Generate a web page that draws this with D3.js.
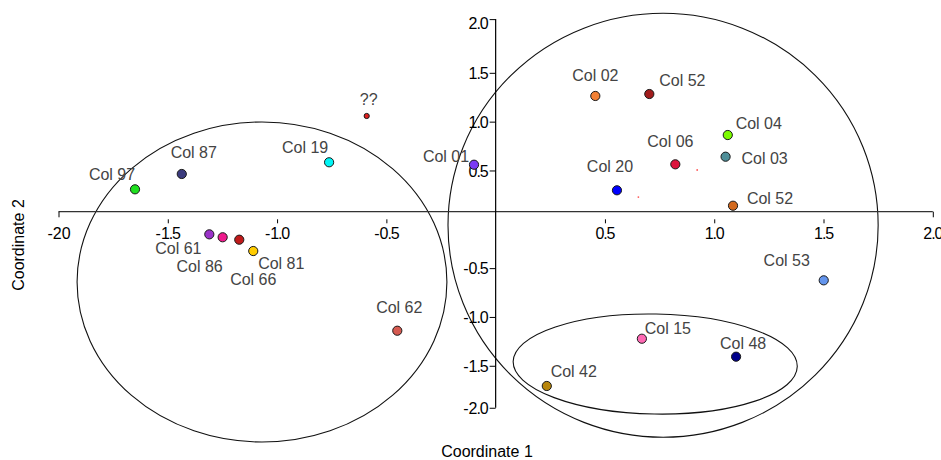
<!DOCTYPE html>
<html>
<head>
<meta charset="utf-8">
<script src="https://cdn.jsdelivr.net/npm/d3@7/dist/d3.min.js"></script>
<style>
  html, body { margin: 0; padding: 0; background: #fff; }
  svg { display: block; font-family: "Liberation Sans", Arial, sans-serif; }
</style>
</head>
<body>
<svg id="chart" width="941" height="460"></svg>
<script>
// ---- data ----
const names = ["Col 97","Col 87","Col 61","Col 86","Col 66","Col 81","Col 19","??","Col 01","Col 62",
               "Col 02","Col 52","Col 06","Col 20","Col 04","Col 03","Col 52","Col 53","Col 15","Col 48","Col 42"];
const coord1 = [-1.650,-1.436,-1.310,-1.249,-1.173,-1.109,-0.762,-0.590,-0.099,-0.450,
                0.456,0.703,0.822,0.555,1.062,1.052,1.086,1.501,0.669,1.100,0.234];
const coord2 = [0.307,0.464,-0.154,-0.184,-0.209,-0.325,0.584,1.058,0.559,-1.141,
                1.263,1.283,0.563,0.297,0.863,0.641,0.139,-0.625,-1.223,-1.407,-1.707];
const colors = ["#1fe01f","#3b3b7e","#9a32c8","#ee1a8c","#c01a1a","#ffcc00","#00f5f5","#e02020","#7a3cf5","#d65a50",
                "#f28034","#a11c1c","#dc143c","#0000ff","#7cfc00","#4e8e98","#d2691e","#6495ed","#ff69b4","#00008b","#b8860b"];
const pointKind = ["n","n","n","n","n","n","n","s","n","n","n","n","n","n","n","n","n","n","n","n","n"];

// tiny unlabeled marks
const speckX = [0.653, 0.922];
const speckY = [0.228, 0.505];

// ellipses (data units): centre, radii, rotation in degrees
const ellCx = [-1.069, 0.766, 0.730];
const ellCy = [-0.642, -0.061, -1.482];
const ellRx = [0.846, 0.984, 0.650];
const ellRy = [1.639, 2.171, 0.512];
const ellRot = [0, 0, 1];

// axis ticks
const xTicks = [-2, -1.5, -1, -0.5, 0.5, 1, 1.5, 2];
const xTickLabels = ["-20", "-1.5", "-1.0", "-0.5", "0.5", "1.0", "1.5", "2.0"];
const yTicks = [2.05, 1.5, 1, 0.5, -0.5, -1, -1.5, -1.93];
const yTickLabels = ["2.0", "1.5", "1.0", "0.5", "-0.5", "-1.0", "-1.5", "-2.0"];
const hAxisAt = 0.078;   // vertical level where the horizontal axis line is drawn

// label layout offsets (px)
const labelDx = [-23, 12, -31, -23, 14, 28, -24, 2, -28, 2, 0, 33, -5, -7, 31, 39, 37, -37, 26, 7, 27];
const labelDy = [-9, -16, 20, 35, 45, 18, -9, -11, -3, -18, -15, -8, -17, -18, -6, 7, -2, -14, -5, -8, -9];

// ---- drawing ----
const svg = d3.select("#chart");
const x = d3.scaleLinear().domain([-2, 2]).range([58.5, 932.8]);
const y = d3.scaleLinear().domain([-2, 2]).range([414.6, 24]);

function dotted(sel, str) {
  sel.text(null);
  const parts = str.split(".");
  sel.append("tspan").text(parts[0]);
  if (parts.length > 1) {
    sel.append("tspan").attr("dx", -1).text(".");
    sel.append("tspan").attr("dx", -1.2).text(parts[1]);
  }
}

// ellipses
const ells = d3.range(ellCx.length).map(i => ({cx: ellCx[i], cy: ellCy[i], rx: ellRx[i], ry: ellRy[i], rot: ellRot[i]}));
svg.append("g").selectAll("ellipse").data(ells).join("ellipse")
  .attr("cx", d => x(d.cx)).attr("cy", d => y(d.cy))
  .attr("rx", d => x(d.cx + d.rx) - x(d.cx))
  .attr("ry", d => y(d.cy) - y(d.cy + d.ry))
  .attr("transform", d => `rotate(${d.rot},${x(d.cx)},${y(d.cy)})`)
  .attr("fill", "none").attr("stroke", "#111").attr("stroke-width", 1.1);

// horizontal axis line
svg.append("line")
  .attr("x1", x(-2)).attr("x2", x(2))
  .attr("y1", y(hAxisAt)).attr("y2", y(hAxisAt))
  .attr("stroke", "#333").attr("stroke-width", 1.2);
// vertical axis line
svg.append("line")
  .attr("x1", x(0)).attr("x2", x(0))
  .attr("y1", y(yTicks[0])).attr("y2", y(yTicks[yTicks.length - 1]))
  .attr("stroke", "#000").attr("stroke-width", 1.2);

// x axis ticks and labels
const xAxis = svg.append("g")
  .attr("transform", `translate(0,${y(0)})`)
  .call(d3.axisBottom(x).tickValues(xTicks).tickSize(4).tickPadding(4)
        .tickFormat((d, i) => xTickLabels[i]));
xAxis.select(".domain").remove();
xAxis.selectAll(".tick line").attr("stroke", "#000");
xAxis.selectAll(".tick").filter((d, i) => i === 0 || i === xTicks.length - 1)
  .select("line").attr("y1", y(hAxisAt) - y(0)).attr("y2", y(hAxisAt) - y(0) + 5.6);
xAxis.selectAll(".tick text")
  .attr("font-size", 16).attr("fill", "#000").attr("font-family", "Liberation Sans, Arial, sans-serif")
  .each(function(d, i) { dotted(d3.select(this), xTickLabels[i]); });

// y axis ticks and labels
const yAxis = svg.append("g")
  .attr("transform", `translate(${x(0)},0)`)
  .call(d3.axisLeft(y).tickValues(yTicks).tickSize(6).tickPadding(1)
        .tickFormat((d, i) => yTickLabels[i]));
yAxis.select(".domain").remove();
yAxis.selectAll(".tick line").attr("stroke", "#000");
yAxis.selectAll(".tick text")
  .attr("font-size", 16).attr("fill", "#000").attr("font-family", "Liberation Sans, Arial, sans-serif")
  .attr("dy", (d, i) => i === 0 ? "0.6em" : "0.36em")
  .each(function(d, i) { dotted(d3.select(this), yTickLabels[i]); });

// axis titles
svg.append("text")
  .attr("x", 487).attr("y", 457).attr("text-anchor", "middle")
  .attr("font-size", 16).attr("fill", "#000").text("Coordinate 1");
svg.append("text")
  .attr("transform", "translate(24,245) rotate(-90)").attr("text-anchor", "middle")
  .attr("font-size", 16).attr("fill", "#000").text("Coordinate 2");

// specks
svg.append("g").selectAll("circle").data(speckX).join("circle")
  .attr("cx", d => x(d)).attr("cy", (d, i) => y(speckY[i]))
  .attr("r", 0.9).attr("fill", "#ff5a5a");

// points
const pts = names.map((n, i) => ({n, x: coord1[i], y: coord2[i], c: colors[i], k: pointKind[i], dx: labelDx[i], dy: labelDy[i]}));
svg.append("g").selectAll("circle").data(pts).join("circle")
  .attr("cx", d => x(d.x)).attr("cy", d => y(d.y))
  .attr("r", d => d.k === "s" ? 2.6 : 4.6)
  .attr("fill", d => d.c).attr("stroke", "#1a1a1a").attr("stroke-width", 1);

// labels
svg.append("g").selectAll("text").data(pts).join("text")
  .attr("x", d => x(d.x) + d.dx).attr("y", d => y(d.y) + d.dy)
  .attr("text-anchor", "middle").attr("font-size", 16).attr("fill", "#444")
  .text(d => d.n);
</script>
</body>
</html>
